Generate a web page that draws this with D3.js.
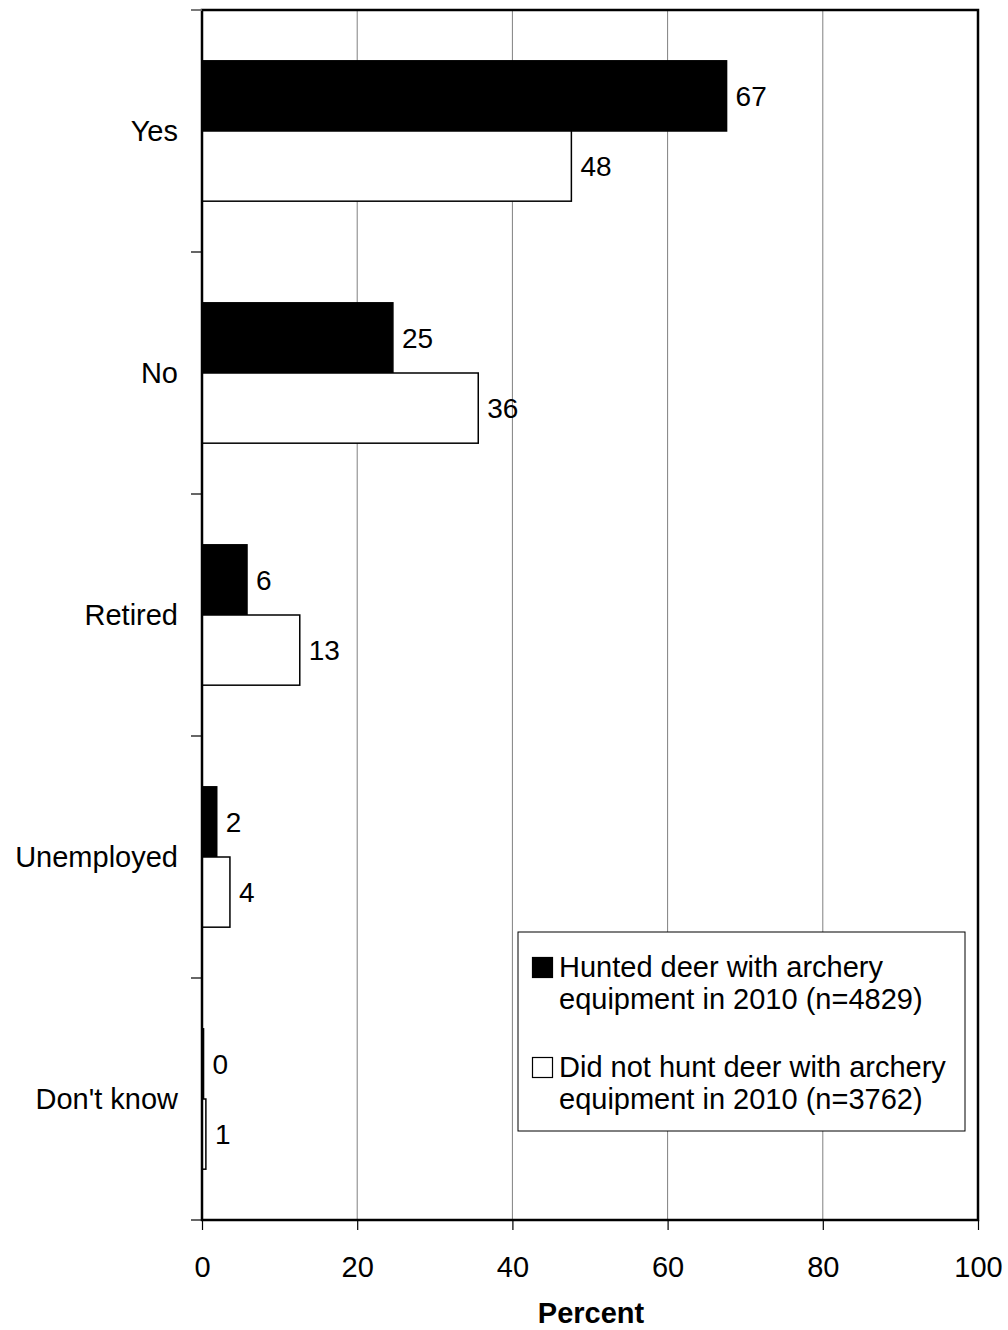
<!DOCTYPE html>
<html><head><meta charset="utf-8">
<script src="https://cdn.jsdelivr.net/npm/d3@7"></script>
<style>body{margin:0;background:#fff}svg{display:block;font-family:"Liberation Sans",Arial,sans-serif}</style>
</head><body><div id="chart"></div>
<script>
const categories = ["Yes", "No", "Retired", "Unemployed", "Don't know"];
const hunted = [67.6, 24.6, 5.8, 1.9, 0.2];
const notHunted = [47.6, 35.6, 12.6, 3.6, 0.5];
const huntedLabels = ["67", "25", "6", "2", "0"];
const notHuntedLabels = ["48", "36", "13", "4", "1"];
const xTicks = [0, 20, 40, 60, 80, 100];
const legendLabels = [["Hunted deer with archery", "equipment in 2010 (n=4829)"], ["Did not hunt deer with archery", "equipment in 2010 (n=3762)"]];

const W = 1008, H = 1330;
const L = 202, R = 978, T = 10, B = 1220;
const FS = 29;
const svg = d3.select("#chart").append("svg").attr("width", W).attr("height", H);
const x = d3.scaleLinear().domain([0, 100]).range([L, R]);
const y = d3.scaleBand().domain(categories).range([T, B]).paddingInner(0.42).paddingOuter(0.21);
const sub = d3.scaleBand().domain([0, 1]).range([0, y.bandwidth()]);

// gridlines
svg.append("g").selectAll("line").data(xTicks.filter(d => d > 0 && d < 100)).join("line")
  .attr("x1", d => x(d)).attr("x2", d => x(d)).attr("y1", T).attr("y2", B)
  .attr("stroke", "#808080").attr("stroke-width", 1);

// bars
const series = [hunted, notHunted];
const labels = [huntedLabels, notHuntedLabels];
series.forEach((vals, si) => {
  const g = svg.append("g");
  g.selectAll("rect").data(vals).join("rect")
    .attr("x", x(0)).attr("y", (d, i) => y(categories[i]) + sub(si))
    .attr("width", d => x(d) - x(0)).attr("height", sub.bandwidth())
    .attr("fill", si === 0 ? "#000" : "#fff").attr("stroke", "#000").attr("stroke-width", 1.5);
  g.selectAll("text").data(vals).join("text")
    .attr("x", d => x(d) + 9).attr("y", (d, i) => y(categories[i]) + sub(si) + sub.bandwidth() / 2)
    .attr("dy", "0.35em").attr("font-size", 28).text((d, i) => labels[si][i]);
});

// frame
svg.append("rect").attr("x", L).attr("y", T).attr("width", R - L).attr("height", B - T)
  .attr("fill", "none").attr("stroke", "#000").attr("stroke-width", 2.5);

// y axis ticks (category boundaries)
const yb = categories.map(c => y(c) - y.step() * y.paddingInner() / 2);
svg.append("g").selectAll("line").data(yb.concat([B])).join("line")
  .attr("x1", L - 11).attr("x2", L).attr("y1", d => d).attr("y2", d => d)
  .attr("stroke", "#000").attr("stroke-width", 1.2);
svg.append("line").attr("x1", L - 11).attr("x2", L).attr("y1", T).attr("y2", T).attr("stroke", "#808080").attr("stroke-width", 1.5);
svg.append("g").selectAll("text").data(categories).join("text")
  .attr("x", L - 24).attr("y", d => y(d) + y.bandwidth() / 2).attr("dy", "0.35em")
  .attr("text-anchor", "end").attr("font-size", FS).text(d => d);

// x axis
const xAxis = svg.append("g").attr("transform", `translate(0,${B})`)
  .call(d3.axisBottom(x).tickValues(xTicks).tickSize(10).tickPadding(26));
xAxis.select(".domain").remove();
xAxis.selectAll(".tick line").attr("stroke", "#000").attr("stroke-width", 1.2);
xAxis.selectAll(".tick text").attr("font-size", FS).attr("font-family", "Liberation Sans, Arial, sans-serif").attr("fill", "#000");
svg.append("text").attr("x", 591).attr("y", 1323).attr("text-anchor", "middle")
  .attr("font-size", FS).attr("font-weight", "bold").text("Percent");

// legend
const lg = svg.append("g");
lg.append("rect").attr("x", 518).attr("y", 932).attr("width", 447).attr("height", 199)
  .attr("fill", "#fff").attr("stroke", "#000").attr("stroke-width", 1);
legendLabels.forEach((lines, i) => {
  const y0 = 977 + i * 100;
  lg.append("rect").attr("x", 532.5).attr("y", y0 - 19.5).attr("width", 20).attr("height", 20)
    .attr("fill", i === 0 ? "#000" : "#fff").attr("stroke", "#000").attr("stroke-width", 1.2);
  lines.forEach((t, j) => {
    lg.append("text").attr("x", 559).attr("y", y0 + j * 32).attr("font-size", FS).text(t);
  });
});
</script></body></html>
